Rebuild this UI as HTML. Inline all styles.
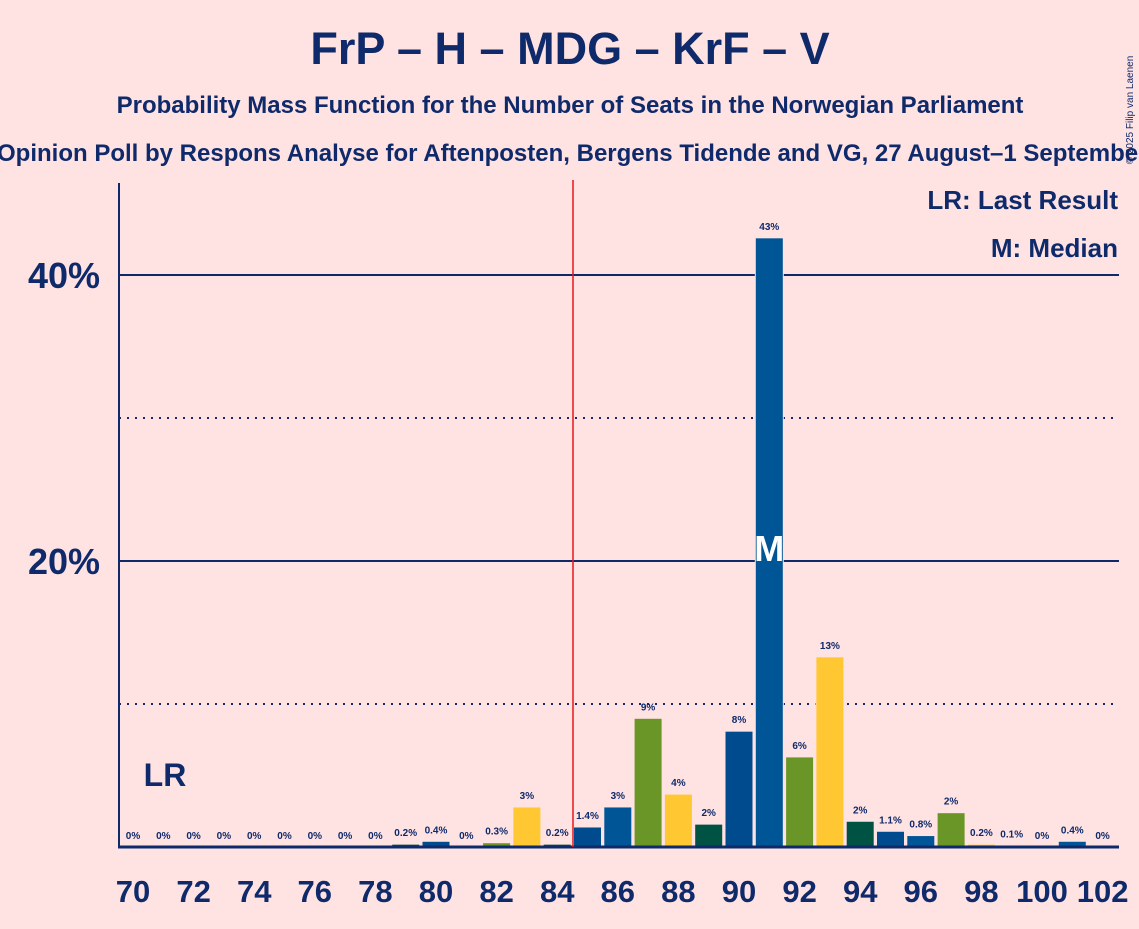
<!DOCTYPE html>
<html><head><meta charset="utf-8"><style>
body{margin:0;background:#FFE2E2;font-family:"Liberation Sans",sans-serif;}
svg text{font-family:"Liberation Sans",sans-serif;fill:#0E2A6B;}
</style></head><body>
<svg width="1139" height="924">
<rect width="1139" height="924" fill="#FFE2E2"/>
<text x="570" y="64" text-anchor="middle" font-size="45" font-weight="bold">FrP – H – MDG – KrF – V</text>
<text x="570" y="113" text-anchor="middle" font-size="24" font-weight="bold">Probability Mass Function for the Number of Seats in the Norwegian Parliament</text>
<text x="-3" y="161" text-anchor="start" font-size="24" font-weight="bold">Opinion Poll by Respons Analyse for Aftenposten, Bergens Tidende and VG, 27 August–1 September 2025</text>
<text x="1133" y="110" font-size="10" transform="rotate(-90 1133 110)" text-anchor="middle">© 2025 Filip van Laenen</text>
<g id="grid"></g>
<g id="bars"></g>
<line x1="119" y1="183" x2="119" y2="848" stroke="#0E2A6B" stroke-width="2"/>
<line x1="118" y1="847" x2="1119" y2="847" stroke="#0E2A6B" stroke-width="3"/>
<line x1="573" y1="180" x2="573" y2="847" stroke="#E8151B" stroke-width="1.5"/>
<text x="165" y="786" text-anchor="middle" font-size="32" font-weight="bold">LR</text>
<text x="1118" y="209" text-anchor="end" font-size="26" font-weight="bold">LR: Last Result</text>
<text x="1118" y="257" text-anchor="end" font-size="26" font-weight="bold">M: Median</text>
<g id="xt"></g>
</svg>
<script>
const seats=[70,71,72,73,74,75,76,77,78,79,80,81,82,83,84,85,86,87,88,89,90,91,92,93,94,95,96,97,98,99,100,101,102];
const probs=[0,0,0,0,0,0,0,0,0,0.2,0.4,0,0.3,2.8,0.2,1.4,2.8,9.0,3.7,1.6,8.1,42.6,6.3,13.3,1.8,1.1,0.8,2.4,0.2,0.1,0,0.4,0];
const labels=["0%","0%","0%","0%","0%","0%","0%","0%","0%","0.2%","0.4%","0%","0.3%","3%","0.2%","1.4%","3%","9%","4%","2%","8%","43%","6%","13%","2%","1.1%","0.8%","2%","0.2%","0.1%","0%","0.4%","0%"];
const yTicks=[10,20,30,40];
const yTickLabels=["","20%","","40%"];
const median=91;
const colors=["#004B8D","#005596","#6A9628","#FFC832","#005243"];
const NS="http://www.w3.org/2000/svg";
const X=s=>133+(s-70)*30.3;
const Y=p=>847-p*14.3;
function mk(t,a,parent,txt){const e=document.createElementNS(NS,t);for(const k in a)e.setAttribute(k,a[k]);if(txt!=null)e.textContent=txt;document.getElementById(parent).appendChild(e);return e;}
yTicks.forEach((t,i)=>{
 const solid=t%20===0;
 const l=mk('line',{x1:119,x2:1119,y1:Y(t),y2:Y(t),stroke:'#0E2A6B','stroke-width':2,'stroke-dasharray':solid?'':'2,6'},'grid');
 
 
 if(yTickLabels[i]){const tx=mk('text',{x:100,y:Y(t)+13,'text-anchor':'end','font-size':36,'font-weight':'bold'},'grid',yTickLabels[i]);
 
 }
});
seats.forEach((s,i)=>{
 const p=probs[i];
 if(p>0){const r=mk('rect',{x:X(s)-14,y:Y(p),width:28,height:847-Y(p),fill:colors[s%5],stroke:'#FFE2E2','stroke-width':1},'bars');
 
 }
 const t=mk('text',{x:X(s),y:Y(p)-8,'text-anchor':'middle','font-size':10,'font-weight':'bold'},'bars',labels[i]);
 
 
 if(s%2===0){const xt=mk('text',{x:X(s),y:902,'text-anchor':'middle','font-size':31,'font-weight':'bold'},'xt',String(s));
 
 }
});
const m=mk('text',{x:X(median),y:561,'text-anchor':'middle','font-size':36,'font-weight':'bold'},'bars','M');
m.style.fill='#fff';


</script>
</body></html>
